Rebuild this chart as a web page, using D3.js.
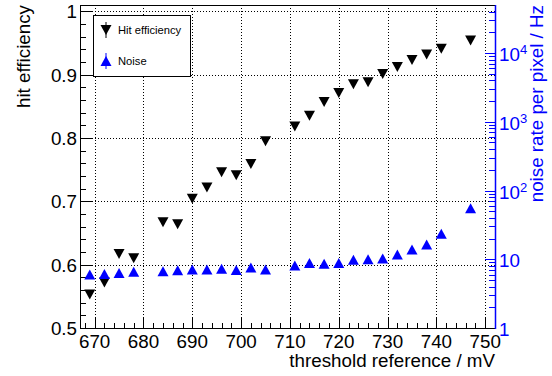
<!DOCTYPE html>
<meta charset="utf-8">
<body style="margin:0;background:#fff">
<script src="https://d3js.org/d3.v7.min.js"></script>
<script>

// threshold scan data
var thresholds = [669, 672, 675, 678, 684, 687, 690, 693, 696, 699, 702, 705,
                  711, 714, 717, 720, 723, 726, 729, 732, 735, 738, 741, 747];
var hitEff = [0.553, 0.572, 0.617, 0.610, 0.667, 0.664, 0.704, 0.722, 0.746, 0.741, 0.759, 0.795,
              0.818, 0.835, 0.857, 0.871, 0.885, 0.888, 0.901, 0.912, 0.923, 0.932, 0.941, 0.954];
var noise = [6.0, 6.1, 6.3, 6.6, 6.7, 6.9, 7.1, 7.1, 7.3, 7.0, 7.6, 7.1,
             8.1, 8.8, 8.6, 8.8, 9.8, 10.0, 10.3, 11.7, 13.9, 16.4, 23.5, 55.4];
var xTicks = [670, 680, 690, 700, 710, 720, 730, 740, 750];
var yTicks = [0.5, 0.6, 0.7, 0.8, 0.9, 1];
var logTicks = [1, 10, 100, 1000, 10000];
var legendItems = ["Hit efficiency", "Noise"];

var width = 552,
    height = 376,
    margin = {left: 80, right: 57, top: 5, bottom: 48},
    font = "'Liberation Sans', Arial, sans-serif",
    blue = "#0000ff";

var svg = d3.select("body").append("svg")
    .attr("width", width)
    .attr("height", height)
    .style("display", "block")
    .style("font-family", font);

var x = d3.scaleLinear().domain([667, 752]).range([margin.left, width - margin.right]);
var y = d3.scaleLinear().domain([0.5, 1.01]).range([height - margin.bottom, margin.top]);
var yr = d3.scaleLog().domain([1, 50000]).range([height - margin.bottom, margin.top]);

var x0 = x.range()[0], x1 = x.range()[1], y0 = y.range()[0], y1 = y.range()[1];

// grid
var grid = svg.append("g").attr("stroke", "#000").attr("stroke-dasharray", "1,2").attr("stroke-width", 1);
grid.selectAll(".gx").data(xTicks).enter().append("line")
    .attr("x1", function(d) { return Math.round(x(d)) + 0.5; })
    .attr("x2", function(d) { return Math.round(x(d)) + 0.5; })
    .attr("y1", y1).attr("y2", y0);
grid.selectAll(".gy").data(yTicks.slice(1)).enter().append("line")
    .attr("y1", function(d) { return Math.round(y(d)) + 0.5; })
    .attr("y2", function(d) { return Math.round(y(d)) + 0.5; })
    .attr("x1", x0).attr("x2", x1);

// ticks
var ticks = svg.append("g").attr("stroke-width", 1);
var xMinor = d3.range(668, 753, 2);
ticks.selectAll(".tx").data(xMinor).enter().append("line")
    .attr("stroke", "#000")
    .attr("x1", function(d) { return Math.round(x(d)) + 0.5; })
    .attr("x2", function(d) { return Math.round(x(d)) + 0.5; })
    .attr("y1", y0)
    .attr("y2", function(d) { return y0 - (d % 10 === 0 ? 10 : 5); });
var yMinor = d3.range(0.5, 1.011, 0.02);
ticks.selectAll(".ty").data(yMinor).enter().append("line")
    .attr("stroke", "#000")
    .attr("y1", function(d) { return Math.round(y(d)) + 0.5; })
    .attr("y2", function(d) { return Math.round(y(d)) + 0.5; })
    .attr("x1", x0)
    .attr("x2", function(d) { return x0 + (Math.abs(d * 10 - Math.round(d * 10)) < 1e-6 ? 12 : 6); });
var rMinor = [];
for (var e = 0; e <= 4; e++) for (var m = 1; m <= 9; m++) { if (m * Math.pow(10, e) <= 50000) rMinor.push(m * Math.pow(10, e)); }
ticks.selectAll(".tr").data(rMinor).enter().append("line")
    .attr("stroke", blue)
    .attr("y1", function(d) { return Math.round(yr(d)) + 0.5; })
    .attr("y2", function(d) { return Math.round(yr(d)) + 0.5; })
    .attr("x1", x1)
    .attr("x2", function(d) { return x1 - (logTicks.indexOf(d) >= 0 ? 10 : 6); });

// frame
svg.append("line").attr("x1", x0 + 0.5).attr("x2", x0 + 0.5).attr("y1", y1).attr("y2", y0).attr("stroke", "#000");
svg.append("line").attr("x1", x0).attr("x2", x1).attr("y1", y0 + 0.5).attr("y2", y0 + 0.5).attr("stroke", "#000");
svg.append("line").attr("x1", x0).attr("x2", x1).attr("y1", y1 + 0.5).attr("y2", y1 + 0.5).attr("stroke", "#000");
svg.append("line").attr("x1", x1 + 0.5).attr("x2", x1 + 0.5).attr("y1", y1).attr("y2", y0 + 1).attr("stroke", blue).attr("stroke-width", 1.5);

// tick labels
var fs = 18.8;
svg.append("g").selectAll("text").data(xTicks).enter().append("text")
    .attr("x", function(d) { return x(d); })
    .attr("y", y0 + 20)
    .attr("text-anchor", "middle")
    .style("font-size", fs + "px")
    .text(function(d) { return d; });
svg.append("g").selectAll("text").data(yTicks).enter().append("text")
    .attr("x", x0 - 3)
    .attr("y", function(d) { return y(d) + 7; })
    .attr("text-anchor", "end")
    .style("font-size", fs + "px")
    .text(function(d) { return d; });
var rl = svg.append("g").selectAll("text").data(logTicks).enter().append("text")
    .attr("x", x1 + 4)
    .attr("y", function(d) { return yr(d) + 8; })
    .attr("fill", blue)
    .style("font-size", fs + "px");
rl.each(function(d) {
  var t = d3.select(this), ex = Math.round(Math.log10(d));
  if (ex <= 1) { t.text(d); return; }
  t.append("tspan").text("10");
  t.append("tspan").attr("dy", -7).style("font-size", "13px").text(ex);
});

// axis titles
svg.append("text")
    .attr("x", x1).attr("y", 367)
    .attr("text-anchor", "end")
    .style("font-size", fs + "px")
    .text("threshold reference / mV");
svg.append("text")
    .attr("transform", "translate(30," + y1 + ") rotate(-90)")
    .attr("text-anchor", "end")
    .style("font-size", fs + "px")
    .text("hit efficiency");
svg.append("text")
    .attr("transform", "translate(543," + y1 + ") rotate(-90)")
    .attr("text-anchor", "end")
    .attr("fill", blue)
    .style("font-size", fs + "px")
    .text("noise rate per pixel / Hz");

// markers
var down = "M-5.5,-5L5.5,-5L0,5Z", up = "M-5.5,5L5.5,5L0,-5Z";
svg.append("g").selectAll("path").data(thresholds).enter().append("path")
    .attr("d", down)
    .attr("fill", "#000")
    .attr("transform", function(d, i) { return "translate(" + x(d) + "," + y(hitEff[i]) + ")"; });
svg.append("g").selectAll("path").data(thresholds).enter().append("path")
    .attr("d", up)
    .attr("fill", blue)
    .attr("transform", function(d, i) { return "translate(" + x(d) + "," + yr(noise[i]) + ")"; });

// legend
var lg = svg.append("g");
lg.append("rect").attr("x", 93.5).attr("y", 15.5).attr("width", 97).attr("height", 61)
    .attr("fill", "#fff").attr("stroke", "#000").attr("stroke-width", 1);
var li = lg.selectAll(".li").data(legendItems).enter().append("g")
    .attr("transform", function(d, i) { return "translate(106," + (30 + i * 31) + ")"; });
li.append("line").attr("x1", 0).attr("x2", 0).attr("y1", -8).attr("y2", 8)
    .attr("stroke", function(d, i) { return i === 0 ? "#000" : blue; });
li.append("path").attr("d", function(d, i) { return i === 0 ? down : up; })
    .attr("fill", function(d, i) { return i === 0 ? "#000" : blue; });
li.append("text").attr("x", 12).attr("y", 4)
    .style("font-size", "11.2px")
    .text(function(d) { return d; });

</script>
</body>
